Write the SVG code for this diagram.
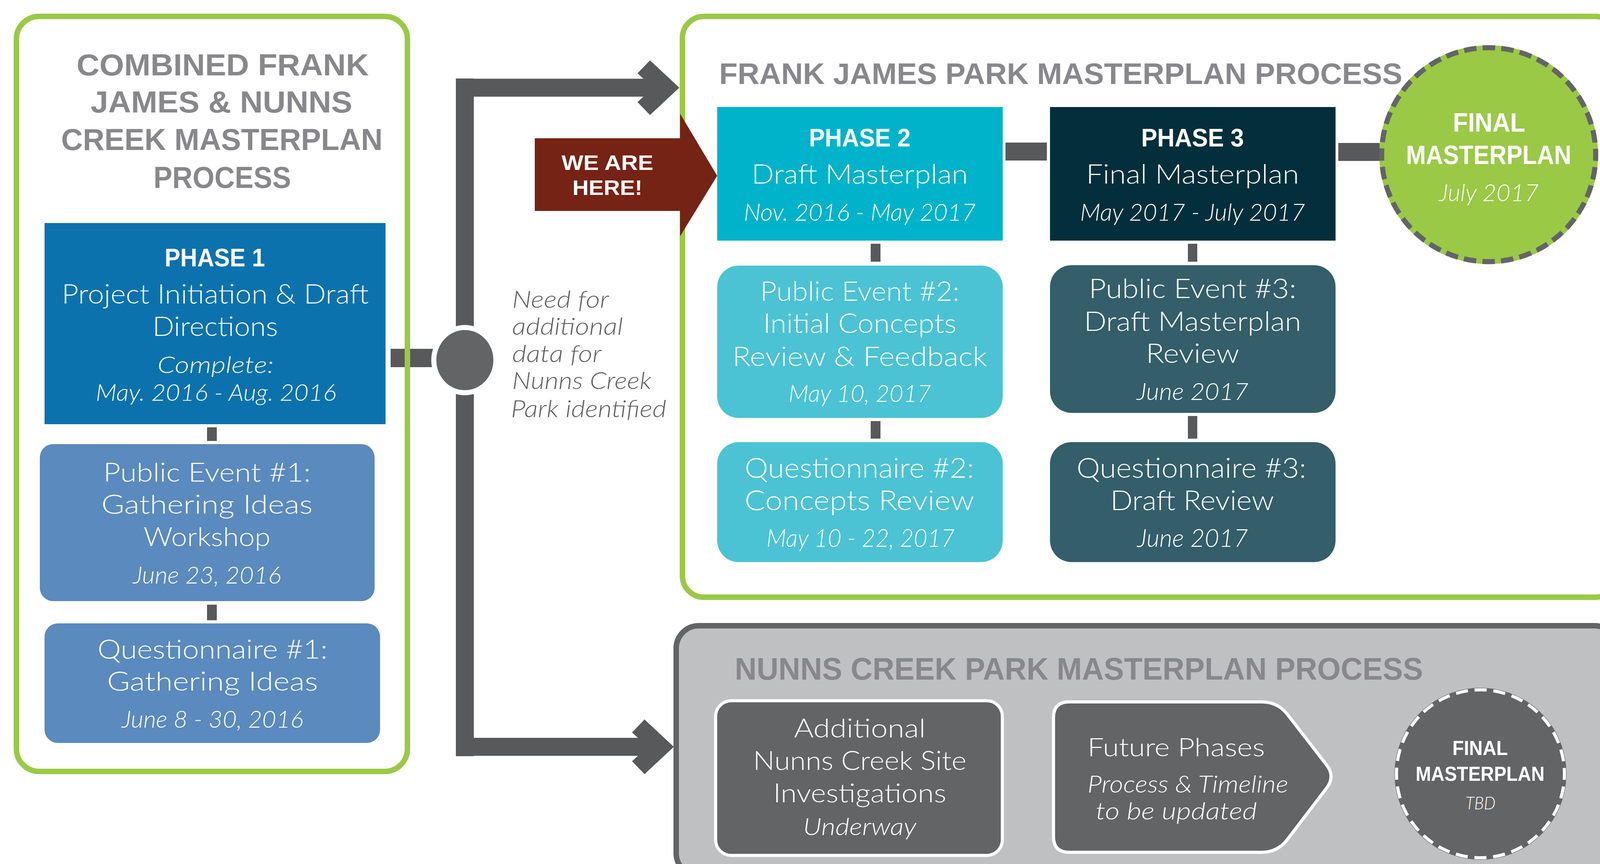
<svg xmlns="http://www.w3.org/2000/svg" width="4147" height="2212" viewBox="0 0 4147 2212">
<style>
.pt{font-family:"Liberation Sans",Arial,sans-serif;font-weight:bold;fill:#88878b}
.hd{font-family:"Liberation Sans",Arial,sans-serif;font-weight:bold;fill:#fff;text-anchor:middle}
.tx{font-family:Lato,"Open Sans","Liberation Sans",sans-serif;font-weight:300;fill:#fff;text-anchor:middle}
.it{font-family:Lato,"Open Sans","Liberation Sans",sans-serif;font-weight:300;font-style:italic;fill:#fff;text-anchor:middle}
.nt{font-family:Lato,"Open Sans","Liberation Sans",sans-serif;font-weight:300;font-style:italic;fill:#5f6062}
.st{text-anchor:start}
.conn{fill:#58595b}
.gp{fill:none;stroke:#99c945;stroke-width:14}
</style>
<rect width="4147" height="2212" fill="#fff"/>
<g id="panel-backgrounds">
<rect x="42" y="42" width="1001" height="1933" rx="58" fill="#fff"/>
<rect x="1747" y="42" width="2392" height="1487" rx="55" fill="#fff"/>
<rect x="1731" y="1602" width="2409" height="640" rx="58" fill="#bfc0c2" stroke="#636466" stroke-width="14"/>
</g>
<g id="connectors">
<rect class="conn" x="1000" y="893" width="191" height="47"/>
<rect class="conn" x="1167" y="201" width="46" height="1735"/>
<rect class="conn" x="1167" y="201.5" width="482" height="46"/>
<polygon class="conn" points="1647,201.5 1632,187.5 1664,154.5 1739,224.5 1664,294.5 1632,261.5 1647,247.5"/>
<rect class="conn" x="1167" y="1889" width="468" height="46"/>
<polygon class="conn" points="1633,1889 1618,1875 1650,1842 1725,1912 1650,1982 1618,1949 1633,1935"/>
<ellipse cx="1190" cy="922" rx="86" ry="90" fill="#fff"/>
<ellipse cx="1190" cy="922" rx="73" ry="77" fill="#636466"/>
<rect class="conn" x="530" y="1094" width="25" height="35"/>
<rect class="conn" x="530" y="1548" width="25" height="40"/>
<rect class="conn" x="2229" y="624" width="25" height="46"/>
<rect class="conn" x="2229" y="1078" width="25" height="45"/>
<rect class="conn" x="3041" y="624" width="24" height="46"/>
<rect class="conn" x="3041" y="1065" width="24" height="58"/>
<rect class="conn" x="2574" y="365" width="106" height="46"/>
<rect class="conn" x="3426" y="366" width="106" height="46"/>
</g>
<g id="panel-combined">
<rect class="gp" x="42" y="42" width="1001" height="1933" rx="58"/>
<text class="pt" font-size="78" text-anchor="middle" x="570" y="193" textLength="748" lengthAdjust="spacingAndGlyphs">COMBINED FRANK</text>
<text class="pt" font-size="78" text-anchor="middle" x="567" y="288" textLength="670" lengthAdjust="spacingAndGlyphs">JAMES &amp; NUNNS</text>
<text class="pt" font-size="78" text-anchor="middle" x="568" y="384" textLength="823" lengthAdjust="spacingAndGlyphs">CREEK MASTERPLAN</text>
<text class="pt" font-size="78" text-anchor="middle" x="569" y="481" textLength="352" lengthAdjust="spacingAndGlyphs">PROCESS</text>
</g>
<g id="panel-frank-james">
<rect class="gp" x="1747" y="42" width="2392" height="1487" rx="55"/>
<text class="pt" font-size="76" x="1841" y="215" textLength="1749" lengthAdjust="spacingAndGlyphs">FRANK JAMES PARK MASTERPLAN PROCESS</text>
</g>
<g id="panel-nunns-creek">
<text class="pt" font-size="79" x="1881" y="1740" textLength="1762" lengthAdjust="spacingAndGlyphs">NUNNS CREEK PARK MASTERPLAN PROCESS</text>
</g>
<g id="phase1">
<rect x="114" y="571" width="873" height="515" fill="#0c72ae"/>
<text class="hd" font-size="65" x="550" y="682" textLength="257" lengthAdjust="spacingAndGlyphs">PHASE 1</text>
<text class="tx" font-size="69" x="551" y="777" textLength="786" lengthAdjust="spacingAndGlyphs">Project Initiation &amp; Draft</text>
<text class="tx" font-size="69" x="551" y="860" textLength="321" lengthAdjust="spacingAndGlyphs">Directions</text>
<text class="it" font-size="60" x="552" y="955" textLength="298" lengthAdjust="spacingAndGlyphs">Complete:</text>
<text class="it" font-size="60" x="553" y="1026" textLength="616" lengthAdjust="spacingAndGlyphs">May. 2016 - Aug. 2016</text>
</g>
<g id="public-event-1">
<rect x="102" y="1137" width="857" height="402" rx="34" fill="#5a8abe"/>
<text class="tx" font-size="67" x="530" y="1233" textLength="531" lengthAdjust="spacingAndGlyphs">Public Event #1:</text>
<text class="tx" font-size="67" x="530" y="1315" textLength="541" lengthAdjust="spacingAndGlyphs">Gathering Ideas</text>
<text class="tx" font-size="67" x="530" y="1398" textLength="325" lengthAdjust="spacingAndGlyphs">Workshop</text>
<text class="it" font-size="61" x="530" y="1494" textLength="380" lengthAdjust="spacingAndGlyphs">June 23, 2016</text>
</g>
<g id="questionnaire-1">
<rect x="114" y="1596" width="859" height="306" rx="34" fill="#5a8abe"/>
<text class="tx" font-size="67" x="544" y="1686" textLength="589" lengthAdjust="spacingAndGlyphs">Questionnaire #1:</text>
<text class="tx" font-size="67" x="544" y="1768" textLength="540" lengthAdjust="spacingAndGlyphs">Gathering Ideas</text>
<text class="it" font-size="61" x="544" y="1863" textLength="465" lengthAdjust="spacingAndGlyphs">June 8 - 30, 2016</text>
</g>
<g id="junction-note">
<text class="nt" font-size="62" x="1311" y="788" textLength="248" lengthAdjust="spacingAndGlyphs">Need for</text>
<text class="nt" font-size="62" x="1311" y="857" textLength="284" lengthAdjust="spacingAndGlyphs">additional</text>
<text class="nt" font-size="62" x="1311" y="927" textLength="229" lengthAdjust="spacingAndGlyphs">data for</text>
<text class="nt" font-size="62" x="1311" y="996" textLength="357" lengthAdjust="spacingAndGlyphs">Nunns Creek</text>
<text class="nt" font-size="62" x="1308" y="1068" textLength="398" lengthAdjust="spacingAndGlyphs">Park identified</text>
</g>
<g id="phase2">
<rect x="1836" y="274" width="731" height="342" fill="#00b3ca"/>
<text class="hd" font-size="65" x="2201" y="375" textLength="260" lengthAdjust="spacingAndGlyphs">PHASE 2</text>
<text class="tx" font-size="69" x="2201" y="470" textLength="554" lengthAdjust="spacingAndGlyphs">Draft Masterplan</text>
<text class="it" font-size="61" x="2201" y="565" textLength="594" lengthAdjust="spacingAndGlyphs">Nov. 2016 - May 2017</text>
</g>
<g id="public-event-2">
<rect x="1836" y="680" width="731" height="390" rx="55" fill="#4bc3d4"/>
<text class="tx" font-size="69" x="2201" y="770" textLength="510" lengthAdjust="spacingAndGlyphs">Public Event #2:</text>
<text class="tx" font-size="69" x="2201" y="852" textLength="495" lengthAdjust="spacingAndGlyphs">Initial Concepts</text>
<text class="tx" font-size="69" x="2201" y="937" textLength="652" lengthAdjust="spacingAndGlyphs">Review &amp; Feedback</text>
<text class="it" font-size="61" x="2201" y="1029" textLength="365" lengthAdjust="spacingAndGlyphs">May 10, 2017</text>
</g>
<g id="questionnaire-2">
<rect x="1836" y="1132" width="731" height="307" rx="55" fill="#4bc3d4"/>
<text class="tx" font-size="71" x="2200" y="1223" textLength="587" lengthAdjust="spacingAndGlyphs">Questionnaire #2:</text>
<text class="tx" font-size="71" x="2200" y="1306" textLength="588" lengthAdjust="spacingAndGlyphs">Concepts Review</text>
<text class="it" font-size="63" x="2203" y="1400" textLength="482" lengthAdjust="spacingAndGlyphs">May 10 - 22, 2017</text>
</g>
<g id="phase3">
<rect x="2688" y="274" width="731" height="342" fill="#022f3b"/>
<text class="hd" font-size="65" x="3053" y="375" textLength="263" lengthAdjust="spacingAndGlyphs">PHASE 3</text>
<text class="tx" font-size="69" x="3053" y="470" textLength="545" lengthAdjust="spacingAndGlyphs">Final Masterplan</text>
<text class="it" font-size="61" x="3053" y="565" textLength="576" lengthAdjust="spacingAndGlyphs">May 2017 - July 2017</text>
</g>
<g id="public-event-3">
<rect x="2688" y="679" width="731" height="378" rx="55" fill="#335e6a"/>
<text class="tx" font-size="69" x="3053" y="763" textLength="531" lengthAdjust="spacingAndGlyphs">Public Event #3:</text>
<text class="tx" font-size="69" x="3053" y="847" textLength="556" lengthAdjust="spacingAndGlyphs">Draft Masterplan</text>
<text class="tx" font-size="69" x="3053" y="929" textLength="239" lengthAdjust="spacingAndGlyphs">Review</text>
<text class="it" font-size="61" x="3053" y="1024" textLength="286" lengthAdjust="spacingAndGlyphs">June 2017</text>
</g>
<g id="questionnaire-3">
<rect x="2688" y="1132" width="731" height="307" rx="55" fill="#335e6a"/>
<text class="tx" font-size="71" x="3050" y="1223" textLength="588" lengthAdjust="spacingAndGlyphs">Questionnaire #3:</text>
<text class="tx" font-size="71" x="3052" y="1306" textLength="419" lengthAdjust="spacingAndGlyphs">Draft Review</text>
<text class="it" font-size="63" x="3053" y="1400" textLength="284" lengthAdjust="spacingAndGlyphs">June 2017</text>
</g>
<g id="final-masterplan">
<circle cx="3811" cy="396" r="280" fill="#99c945"/>
<circle cx="3811" cy="396" r="274" fill="none" stroke="#636466" stroke-width="13" stroke-dasharray="32 15.822" stroke-dashoffset="16"/>
<text class="hd" font-size="69" x="3812" y="337" textLength="185" lengthAdjust="spacingAndGlyphs">FINAL</text>
<text class="hd" font-size="69" x="3811" y="420" textLength="423" lengthAdjust="spacingAndGlyphs">MASTERPLAN</text>
<text class="it" font-size="61" x="3811" y="515" textLength="256" lengthAdjust="spacingAndGlyphs">July 2017</text>
</g>
<g id="we-are-here">
<polygon points="1369,354 1741,354 1741,291 1836,450 1741,605 1741,540 1369,540" fill="#752314"/>
<text class="hd" font-size="54" x="1555" y="435" textLength="235" lengthAdjust="spacingAndGlyphs">WE ARE</text>
<text class="hd" font-size="54" x="1555" y="499" textLength="179" lengthAdjust="spacingAndGlyphs">HERE!</text>
</g>
<g id="nunns-investigations">
<rect x="1832" y="1794" width="734" height="396" rx="40" fill="#636466" stroke="#fff" stroke-width="8"/>
<text class="tx" font-size="67" x="2201" y="1888" textLength="337" lengthAdjust="spacingAndGlyphs">Additional</text>
<text class="tx" font-size="67" x="2201" y="1971" textLength="546" lengthAdjust="spacingAndGlyphs">Nunns Creek Site</text>
<text class="tx" font-size="67" x="2201" y="2054" textLength="443" lengthAdjust="spacingAndGlyphs">Investigations</text>
<text class="it" font-size="61" x="2201" y="2138" textLength="290" lengthAdjust="spacingAndGlyphs">Underway</text>
</g>
<g id="nunns-future-phases">
<path d="M2737,1797 L3230,1797 Q3270,1797 3295,1828 L3395,1957 Q3420,1988 3395,2019 L3295,2150 Q3270,2182 3230,2182 L2737,2182 Q2697,2182 2697,2142 L2697,1837 Q2697,1797 2737,1797 Z" fill="#636466" stroke="#fff" stroke-width="8"/>
<text class="tx st" font-size="66" x="2784" y="1936" textLength="454" lengthAdjust="spacingAndGlyphs">Future Phases</text>
<text class="it st" font-size="61" x="2784" y="2029" textLength="514" lengthAdjust="spacingAndGlyphs">Process &amp; Timeline</text>
<text class="it st" font-size="61" x="2805" y="2098" textLength="413" lengthAdjust="spacingAndGlyphs">to be updated</text>
</g>
<g id="nunns-final-masterplan">
<circle cx="3790" cy="1981" r="220" fill="#636466"/>
<circle cx="3790" cy="1981" r="215" fill="none" stroke="#fff" stroke-width="8" stroke-dasharray="31 17.246" stroke-dashoffset="15.5"/>
<text class="hd" font-size="52" x="3789" y="1933" textLength="142" lengthAdjust="spacingAndGlyphs">FINAL</text>
<text class="hd" font-size="52" x="3789" y="1999" textLength="330" lengthAdjust="spacingAndGlyphs">MASTERPLAN</text>
<text class="it" font-size="46" x="3790" y="2072" textLength="77" lengthAdjust="spacingAndGlyphs">TBD</text>
</g>
</svg>
